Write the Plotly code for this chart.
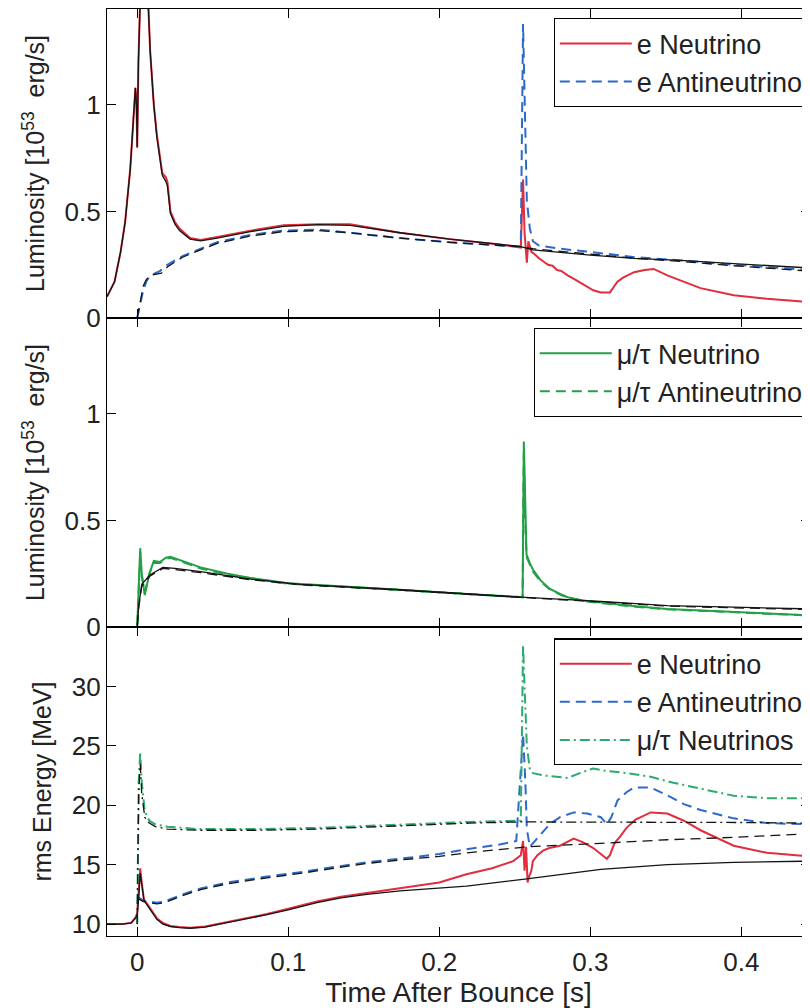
import plotly.graph_objects as go

# ---------------- data ----------------
# Panel 1: luminosity, electron flavour [1e53 erg/s]
t_lum_e = [-0.02, -0.015, -0.011, -0.008, -0.0046, -0.0026, -0.0012, -0.0005, 0.0, 0.0008, 0.002, 0.004,
           0.006, 0.0075, 0.0086, 0.011, 0.013, 0.0166, 0.019, 0.020, 0.022, 0.025, 0.028, 0.035, 0.042,
           0.053, 0.075, 0.097, 0.12, 0.141, 0.174, 0.207, 0.240, 0.254, 0.2555, 0.2565, 0.258, 0.259,
           0.261, 0.263, 0.266, 0.269, 0.272, 0.275, 0.278, 0.281, 0.285, 0.29, 0.296, 0.302, 0.307, 0.313,
           0.316, 0.318, 0.322, 0.329, 0.336, 0.342, 0.351, 0.362, 0.373, 0.395, 0.417, 0.445]
lum_e = [0.10, 0.17, 0.31, 0.45, 0.70, 0.95, 1.08, 1.02, 0.80, 1.20, 1.90, 2.00,
         1.70, 1.42, 1.25, 1.00, 0.86, 0.68, 0.66, 0.64, 0.50, 0.45, 0.42, 0.375, 0.366,
         0.38, 0.41, 0.435, 0.44, 0.44, 0.40, 0.37, 0.345, 0.33, 0.65, 0.40, 0.26, 0.36,
         0.31, 0.30, 0.28, 0.265, 0.25, 0.245, 0.225, 0.22, 0.20, 0.18, 0.155, 0.13, 0.12, 0.12,
         0.15, 0.17, 0.19, 0.215, 0.225, 0.23, 0.20, 0.17, 0.14, 0.107, 0.09, 0.075]

t_lum_eb = [0.0, 0.002, 0.004, 0.006, 0.0086, 0.012, 0.015, 0.02, 0.03, 0.042, 0.053, 0.075, 0.097,
            0.12, 0.141, 0.174, 0.207, 0.24, 0.254, 0.2555, 0.2565, 0.258, 0.260, 0.262, 0.266, 0.28,
            0.30, 0.33, 0.36, 0.395, 0.445]
lum_eb = [0.0, 0.06, 0.13, 0.17, 0.20, 0.21, 0.22, 0.25, 0.29, 0.325, 0.355, 0.39, 0.41,
          0.415, 0.40, 0.375, 0.355, 0.34, 0.335, 1.38, 1.00, 0.55, 0.42, 0.36, 0.34, 0.325,
          0.31, 0.285, 0.27, 0.25, 0.225]

# comparison (black) curves, panel 1
t_lum_e_ref = [-0.02, -0.015, -0.011, -0.008, -0.0046, -0.0026, -0.0012, -0.0005, 0.0, 0.0008, 0.002,
               0.004, 0.006, 0.0075, 0.0086, 0.011, 0.013, 0.0166, 0.019, 0.020, 0.022, 0.025, 0.028,
               0.035, 0.042, 0.053, 0.075, 0.097, 0.12, 0.141, 0.174, 0.207, 0.240, 0.254, 0.262, 0.30,
               0.329, 0.36, 0.395, 0.445]
lum_e_ref = [0.10, 0.17, 0.31, 0.45, 0.70, 0.95, 1.08, 1.00, 0.80, 1.20, 1.90,
             2.00, 1.70, 1.42, 1.25, 1.00, 0.85, 0.67, 0.64, 0.62, 0.49, 0.44, 0.41,
             0.37, 0.362, 0.375, 0.405, 0.43, 0.438, 0.435, 0.40, 0.37, 0.345, 0.335, 0.32, 0.295,
             0.28, 0.27, 0.255, 0.235]
t_lum_eb_ref = [0.0, 0.002, 0.004, 0.006, 0.0086, 0.012, 0.016, 0.02, 0.03, 0.042, 0.053, 0.075, 0.097,
                0.12, 0.141, 0.174, 0.207, 0.24, 0.254, 0.262, 0.30, 0.33, 0.36, 0.395, 0.445]
lum_eb_ref = [0.0, 0.08, 0.15, 0.18, 0.20, 0.205, 0.21, 0.24, 0.285, 0.32, 0.35, 0.385, 0.405,
              0.41, 0.40, 0.375, 0.355, 0.34, 0.335, 0.325, 0.30, 0.28, 0.265, 0.245, 0.22]

# Panel 2: luminosity, mu/tau flavour
t_lum_mu = [-0.02, 0.0, 0.0008, 0.0015, 0.002, 0.003, 0.005, 0.008, 0.011, 0.015, 0.019, 0.022, 0.03,
            0.042, 0.06, 0.075, 0.1, 0.14, 0.174, 0.218, 0.254, 0.2552, 0.256, 0.2568, 0.2578, 0.260,
            0.262, 0.267, 0.273, 0.28, 0.285, 0.295, 0.307, 0.33, 0.351, 0.395, 0.445]
lum_mu = [0.0, 0.0, 0.15, 0.33, 0.37, 0.25, 0.15, 0.25, 0.31, 0.305, 0.325, 0.33, 0.31,
          0.28, 0.25, 0.23, 0.205, 0.19, 0.175, 0.155, 0.14, 0.14, 0.87, 0.55, 0.34, 0.30,
          0.27, 0.22, 0.18, 0.155, 0.14, 0.125, 0.115, 0.098, 0.085, 0.07, 0.055]
t_lum_mub = [-0.02, 0.0, 0.0008, 0.0015, 0.002, 0.003, 0.005, 0.008, 0.011, 0.015, 0.019, 0.022, 0.03,
             0.042, 0.06, 0.075, 0.1, 0.14, 0.174, 0.218, 0.254, 0.2552, 0.256, 0.2568, 0.2578, 0.260,
             0.262, 0.267, 0.273, 0.28, 0.285, 0.295, 0.307, 0.33, 0.351, 0.395, 0.445]
lum_mub = [0.0, 0.0, 0.14, 0.31, 0.35, 0.24, 0.16, 0.25, 0.30, 0.30, 0.32, 0.325, 0.305,
           0.275, 0.245, 0.228, 0.203, 0.188, 0.173, 0.153, 0.14, 0.14, 0.82, 0.52, 0.33, 0.29,
           0.26, 0.215, 0.178, 0.152, 0.138, 0.122, 0.112, 0.095, 0.083, 0.068, 0.054]
t_lum_mu_ref = [-0.02, 0.0, 0.001, 0.003, 0.0086, 0.017, 0.025, 0.042, 0.075, 0.108, 0.174, 0.218, 0.254,
                0.307, 0.351, 0.395, 0.445]
lum_mu_ref = [0.0, 0.0, 0.10, 0.20, 0.245, 0.28, 0.275, 0.26, 0.225, 0.20, 0.175, 0.155, 0.14,
              0.12, 0.10, 0.093, 0.085]
t_lum_mub_ref = [-0.02, 0.0, 0.001, 0.003, 0.0086, 0.017, 0.025, 0.042, 0.075, 0.108, 0.174, 0.218, 0.254,
                 0.307, 0.351, 0.395, 0.445]
lum_mub_ref = [0.0, 0.0, 0.09, 0.19, 0.24, 0.275, 0.27, 0.255, 0.222, 0.198, 0.173, 0.153, 0.139,
               0.118, 0.098, 0.09, 0.082]

# Panel 3: rms energies [MeV]
t_E_e = [-0.02, -0.01, -0.004, -0.001, 0.0, 0.001, 0.002, 0.003, 0.0045, 0.0066, 0.01, 0.013, 0.017,
         0.022, 0.028, 0.035, 0.045, 0.053, 0.07, 0.086, 0.1, 0.119, 0.135, 0.152, 0.174, 0.2, 0.218,
         0.235, 0.249, 0.254, 0.2555, 0.2565, 0.2575, 0.2585, 0.2595, 0.261, 0.262, 0.265, 0.269,
         0.273, 0.28, 0.289, 0.295, 0.302, 0.308, 0.311, 0.313, 0.316, 0.32, 0.324, 0.33, 0.34,
         0.351, 0.362, 0.373, 0.385, 0.395, 0.417, 0.445]
E_e = [10.0, 10.0, 10.1, 10.6, 10.9, 12.5, 14.7, 13.5, 12.0, 11.7, 11.0, 10.5, 10.1,
       9.85, 9.75, 9.7, 9.8, 10.0, 10.4, 10.85, 11.3, 11.9, 12.3, 12.6, 13.0, 13.5, 14.2,
       14.7, 15.3, 15.8, 17.0, 14.5, 16.5, 13.5, 14.0, 14.5, 15.3, 15.8, 16.2,
       16.4, 16.6, 17.2, 16.9, 16.4, 15.8, 15.5, 15.8, 16.8, 17.4, 18.1, 18.8, 19.4,
       19.3, 18.7, 17.9, 17.2, 16.6, 16.0, 15.7]
t_E_e_ref = [-0.02, -0.01, -0.004, -0.001, 0.0, 0.001, 0.002, 0.003, 0.0045, 0.0066, 0.01, 0.013, 0.017,
             0.022, 0.028, 0.035, 0.045, 0.053, 0.07, 0.086, 0.1, 0.119, 0.135, 0.152, 0.174, 0.2,
             0.218, 0.258, 0.307, 0.351, 0.395, 0.445]
E_e_ref = [10.0, 10.0, 10.1, 10.5, 10.8, 12.2, 14.3, 13.2, 12.0, 11.6, 10.9, 10.4, 10.0,
           9.8, 9.7, 9.65, 9.75, 9.95, 10.35, 10.8, 11.2, 11.8, 12.2, 12.5, 12.8, 13.0,
           13.2, 13.8, 14.6, 15.0, 15.2, 15.3]

t_E_eb = [0.0, 0.004, 0.008, 0.013, 0.018, 0.024, 0.03, 0.042, 0.06, 0.086, 0.11, 0.13, 0.152, 0.174,
          0.2, 0.218, 0.24, 0.251, 0.2555, 0.257, 0.258, 0.26, 0.262, 0.267, 0.273, 0.28, 0.289, 0.298,
          0.307, 0.311, 0.314, 0.318, 0.324, 0.329, 0.34, 0.35, 0.362, 0.373, 0.395, 0.417, 0.445]
E_eb = [12.3, 12.0, 11.9, 11.8, 11.9, 12.2, 12.5, 13.0, 13.5, 14.0, 14.4, 14.8, 15.2, 15.5,
        15.9, 16.3, 16.7, 17.0, 26.0, 22.0, 18.0, 16.5, 16.8, 17.5, 18.4, 19.0, 19.4, 19.3,
        19.0, 18.4, 19.0, 20.4, 21.1, 21.5, 21.5, 20.9, 20.1, 19.6, 18.9, 18.5, 18.4]
t_E_eb_ref = [0.0, 0.004, 0.008, 0.013, 0.018, 0.024, 0.03, 0.042, 0.06, 0.086, 0.11, 0.13, 0.152, 0.174,
              0.2, 0.218, 0.24, 0.258, 0.307, 0.351, 0.395, 0.445]
E_eb_ref = [12.2, 11.9, 11.8, 11.7, 11.8, 12.1, 12.4, 12.9, 13.4, 13.9, 14.3, 14.7, 15.1, 15.4,
            15.7, 16.0, 16.3, 16.5, 16.8, 17.1, 17.3, 17.6]

t_E_mu = [0.0, 0.001, 0.002, 0.003, 0.005, 0.008, 0.012, 0.02, 0.04, 0.08, 0.12, 0.174, 0.22, 0.254,
          0.2555, 0.2565, 0.258, 0.26, 0.262, 0.27, 0.285, 0.295, 0.302, 0.31, 0.325, 0.34, 0.355,
          0.373, 0.395, 0.417, 0.445]
E_mu = [10.0, 22.0, 24.5, 22.0, 19.5, 18.7, 18.4, 18.2, 18.0, 18.0, 18.1, 18.4, 18.6, 18.7,
        33.5, 30.0, 25.0, 23.0, 22.7, 22.5, 22.3, 22.8, 23.1, 22.9, 22.7, 22.4, 21.9,
        21.4, 20.8, 20.6, 20.6]
t_E_mu_ref = [0.0, 0.001, 0.002, 0.003, 0.005, 0.008, 0.012, 0.02, 0.04, 0.08, 0.12, 0.174, 0.22, 0.254,
              0.3, 0.35, 0.4, 0.445]
E_mu_ref = [10.0, 21.0, 23.5, 21.0, 19.0, 18.5, 18.2, 18.0, 17.9, 17.9, 18.0, 18.3, 18.5, 18.6,
            18.6, 18.6, 18.55, 18.5]

# axes ticks / labels
x_ticks = [0, 0.1, 0.2, 0.3, 0.4]
x_ticktext = ["0", "0.1", "0.2", "0.3", "0.4"]
lum_ticks = [0, 0.5, 1]
lum_ticktext = ["0", "0.5", "1"]
E_ticks = [10, 15, 20, 25, 30]
E_ticktext = ["10", "15", "20", "25", "30"]

names_p1 = ["e Neutrino", "e Antineutrino"]
names_p2 = ["\u03bc/\u03c4 Neutrino", "\u03bc/\u03c4 Antineutrino"]
names_p3 = ["e Neutrino", "e Antineutrino", "\u03bc/\u03c4 Neutrinos"]

# ---------------- styling ----------------
FONT = "Liberation Sans, Arial, Helvetica, sans-serif"
TXT = "#222222"
RED = "rgb(225,45,60)"
BLUE = "rgb(45,105,200)"
GREEN = "rgb(35,160,70)"
TEAL = "rgb(45,170,110)"
BLK = "rgb(20,20,20)"
CW = 2.0
BW = 1.3

fig = go.Figure()

def add(x, y, ax, color, width, dash, name=None, legend=None):
    fig.add_trace(go.Scatter(
        x=x, y=y, mode="lines", xaxis=ax[0], yaxis=ax[1],
        line=dict(color=color, width=width, dash=dash),
        name=name if name else "ref", showlegend=name is not None,
        legend=legend if legend else "legend", hoverinfo="skip"))

# panel 1 (x, y)
add(t_lum_e, lum_e, ("x", "y"), RED, CW, "solid", names_p1[0], "legend")
add(t_lum_eb, lum_eb, ("x", "y"), BLUE, CW, "10px,6px", names_p1[1], "legend")
add(t_lum_e_ref, lum_e_ref, ("x", "y"), BLK, BW, "solid")
add(t_lum_eb_ref, lum_eb_ref, ("x", "y"), BLK, BW, "10px,6px")

# panel 2 (x2, y2)
add(t_lum_mu, lum_mu, ("x2", "y2"), GREEN, CW, "solid", names_p2[0], "legend2")
add(t_lum_mub, lum_mub, ("x2", "y2"), GREEN, CW, "10px,6px", names_p2[1], "legend2")
add(t_lum_mu_ref, lum_mu_ref, ("x2", "y2"), BLK, BW, "solid")
add(t_lum_mub_ref, lum_mub_ref, ("x2", "y2"), BLK, BW, "10px,6px")

# panel 3 (x3, y3)
add(t_E_e, E_e, ("x3", "y3"), RED, CW, "solid", names_p3[0], "legend3")
add(t_E_eb, E_eb, ("x3", "y3"), BLUE, CW, "10px,6px", names_p3[1], "legend3")
add(t_E_mu, E_mu, ("x3", "y3"), TEAL, CW, "10px,4px,2px,4px", names_p3[2], "legend3")
add(t_E_e_ref, E_e_ref, ("x3", "y3"), BLK, BW, "solid")
add(t_E_eb_ref, E_eb_ref, ("x3", "y3"), BLK, BW, "10px,6px")
add(t_E_mu_ref, E_mu_ref, ("x3", "y3"), BLK, BW, "10px,4px,2px,4px")

XR = [-0.02, 0.4455]
tickfont = dict(family=FONT, size=26, color=TXT)

def xax(anchor, labels):
    d = dict(anchor=anchor, domain=[0, 1], range=XR, tickmode="array", tickvals=x_ticks,
             ticktext=x_ticktext, ticks="inside", ticklen=9, tickwidth=1.2, tickcolor="black",
             showline=True, linecolor="black", linewidth=1.3, mirror="ticks", showgrid=False,
             zeroline=False, showticklabels=labels, tickfont=tickfont)
    return d

def yax(anchor, domain, rng, tv, tt, title):
    return dict(anchor=anchor, domain=domain, range=rng, tickmode="array", tickvals=tv, ticktext=tt,
                ticks="inside", ticklen=9, tickwidth=1.2, tickcolor="black", showline=True,
                linecolor="black", linewidth=1.3, mirror="ticks", showgrid=False, zeroline=False,
                tickfont=tickfont, ticklabelstandoff=0,
                title=dict(text=title, font=dict(family=FONT, size=25, color=TXT), standoff=12))

lum_title = "Luminosity [10<sup>53</sup>  erg/s]"

LEGFONT = dict(family=FONT, size=27, color=TXT)

fig.update_layout(
    width=802, height=1000,
    margin=dict(l=99, r=0, t=1, b=72),
    paper_bgcolor="white", plot_bgcolor="white",
    font=dict(family=FONT, color=TXT),
    xaxis=xax("y", False),
    xaxis2=xax("y2", False),
    xaxis3=dict(xax("y3", True), ticklabelstandoff=3,
                title=dict(text="Time After Bounce [s]", font=dict(family=FONT, size=28, color=TXT),
                           standoff=0)),
    yaxis=yax("x", [0.6667, 1.0], [0, 1.45], lum_ticks, lum_ticktext, lum_title),
    yaxis2=yax("x2", [0.3333, 0.6667], [0, 1.45], lum_ticks, lum_ticktext, lum_title),
    yaxis3=yax("x3", [0.0, 0.3333], [9, 35], E_ticks, E_ticktext, "rms Energy [MeV]"),
    legend=dict(x=0.998, y=0.99, xanchor="right", yanchor="top", bgcolor="white",
                bordercolor="black", borderwidth=1.2, font=LEGFONT, tracegroupgap=0, itemwidth=72),
    legend2=dict(x=0.998, y=0.656, xanchor="right", yanchor="top", bgcolor="white",
                 bordercolor="black", borderwidth=1.2, font=LEGFONT, tracegroupgap=0, itemwidth=72),
    legend3=dict(x=0.998, y=0.321, xanchor="right", yanchor="top", bgcolor="white",
                 bordercolor="black", borderwidth=1.2, font=LEGFONT, tracegroupgap=0, itemwidth=72),
)

fig.write_html("out.html")
